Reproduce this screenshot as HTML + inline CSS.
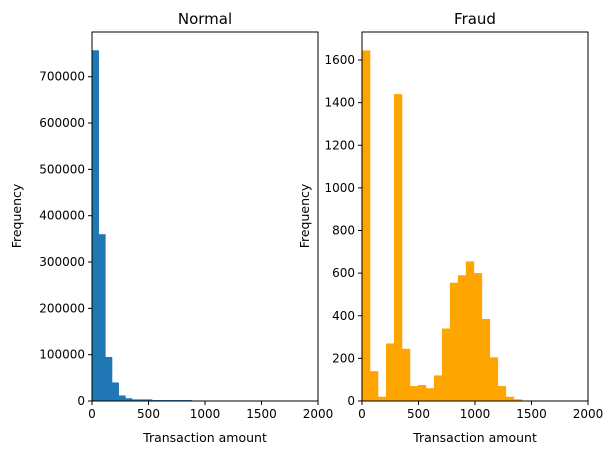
<!DOCTYPE html>
<html><head><meta charset="utf-8"><style>
body{margin:0;background:#fff;font-family:"Liberation Sans","DejaVu Sans",sans-serif;}
svg text{font-family:"DejaVu Sans","Liberation Sans",sans-serif;fill:#000}
</style></head><body>
<svg id="c" width="615" height="455" xmlns="http://www.w3.org/2000/svg"></svg>
<script>
const normalBinWidth = 59;
const normalCounts = [757000,360000,95000,40000,12000,6000,3500,3500,3500,2000,2000,2000,2000,2000,2000];
const fraudBinWidth = 70.7;
const fraudCounts = [1645,140,20,270,1440,245,70,75,60,120,340,555,590,655,600,385,205,70,20,8];
const xTicks = [0,500,1000,1500,2000];
const normalYTicks = [0,100000,200000,300000,400000,500000,600000,700000];
const fraudYTicks = [0,200,400,600,800,1000,1200,1400,1600];

const svg = document.getElementById('c');
const NS = 'http://www.w3.org/2000/svg';
function mk(tag, attrs, parent){const e=document.createElementNS(NS,tag);for(const k in attrs)e.setAttribute(k,attrs[k]);(parent||svg).appendChild(e);return e;}

function panel(name, x0, x1, yTop, yBot, yPerUnit, counts, bw, color, yTicks, title){
  const g = mk('g',{});
  
  
  const xs = v => x0 + v*(x1-x0)/2000;
  const ys = v => yBot - v*yPerUnit;
  counts.forEach((c,i)=>{
    const r = mk('rect',{x:xs(i*bw),y:ys(c),width:xs((i+1)*bw)-xs(i*bw)+0.3,height:yBot-ys(c),fill:color},g);
    
    
  });
  const f = mk('rect',{x:x0,y:yTop,width:x1-x0,height:yBot-yTop,fill:'none',stroke:'#000','stroke-width':1},g);
  
  
  xTicks.forEach(t=>{
    const x=xs(t);
    mk('line',{x1:x,x2:x,y1:yBot,y2:yBot+4,stroke:'#000'},g);
    const tx=mk('text',{x:x,y:yBot+17,'text-anchor':'middle','font-size':12},g);
    tx.textContent=t;
    
    
  });
  yTicks.forEach(t=>{
    const y=ys(t);
    mk('line',{x1:x0-4,x2:x0,y1:y,y2:y,stroke:'#000'},g);
    const tx=mk('text',{x:x0-7,y:y+4,'text-anchor':'end','font-size':12},g);
    tx.textContent=t;
    
    
  });
  const xt=mk('text',{x:(x0+x1)/2,y:yBot+41,'text-anchor':'middle','font-size':12.5},g);
  xt.textContent='Transaction amount';
  
  
  const tt=mk('text',{x:(x0+x1)/2,y:yTop-8,'text-anchor':'middle','font-size':15},g);
  tt.textContent=title;
  
  
  return g;
}
panel('normal',92,318,32,401,324.3/700000,normalCounts,normalBinWidth,'#1f77b4',normalYTicks,'Normal');
panel('fraud',362,588,32,401,341/1600,fraudCounts,fraudBinWidth,'#ffa500',fraudYTicks,'Fraud');
[[21,'normal'],[309,'fraud']].forEach(([x,n])=>{
  const t=mk('text',{x:x,y:216,'text-anchor':'middle','font-size':12.5,transform:'rotate(-90 '+x+' 216)'});
  t.textContent='Frequency';
  
  
});
</script>
</body></html>
